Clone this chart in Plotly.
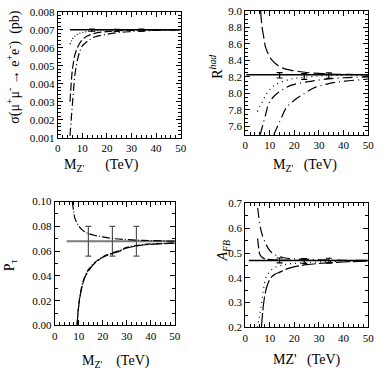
import plotly.graph_objects as go
from plotly.subplots import make_subplots

# ---- panel 1: sigma(mu+ mu- -> e+ e-) ----
sig_sm = 0.007
sig_err_x = [14, 24, 34]
sig_err_y = [0.00698, 0.00697, 0.00698]
sig_err = [0.00006, 0.00006, 0.00006]
sig_dot_x = [5, 6, 7, 8, 10, 12, 15, 20, 25, 30, 40, 50]
sig_dot_y = [0.0062, 0.0065, 0.00665, 0.00675, 0.00685, 0.0069, 0.00694, 0.00697, 0.00698, 0.00699, 0.007, 0.007]
sig_dash_x = [5, 5.3, 5.7, 6.2, 7, 8, 10, 12, 15, 20, 25, 30, 40, 50]
sig_dash_y = [0.0030, 0.0036, 0.0044, 0.0050, 0.0056, 0.0060, 0.00645, 0.00665, 0.0068, 0.0069, 0.00695, 0.00697, 0.00699, 0.007]
sig_dd_x = [5, 5.5, 6, 6.5, 7, 8, 9, 10, 12, 15, 20, 25, 30, 40, 50]
sig_dd_y = [0.0011, 0.0020, 0.0029, 0.0037, 0.0045, 0.0053, 0.0058, 0.0061, 0.00635, 0.0066, 0.00675, 0.00685, 0.0069, 0.00697, 0.007]

# ---- panel 2: R_had ----
rh_sm = 8.225
rh_err_x = [14, 24, 34]
rh_err_y = [8.22, 8.205, 8.215]
rh_err = [0.033, 0.035, 0.033]
rh_up_x = [6.3, 6.8, 7.5, 8.2, 9.5, 11, 12.8, 15, 18.8, 23.4, 28, 35, 42, 50]
rh_up_y = [9.0, 8.82, 8.69, 8.57, 8.47, 8.40, 8.35, 8.31, 8.28, 8.26, 8.245, 8.235, 8.23, 8.225]
rh_dot_x = [5, 6, 7, 8, 9, 10.5, 12, 15, 18, 22, 30, 40, 50]
rh_dot_y = [7.78, 7.85, 7.90, 7.96, 8.01, 8.06, 8.10, 8.14, 8.17, 8.19, 8.21, 8.22, 8.22]
rh_lo1_x = [6.1, 7, 8.2, 9.5, 11.5, 14.8, 18.8, 25, 32, 40, 50]
rh_lo1_y = [7.5, 7.6, 7.73, 7.87, 7.96, 8.04, 8.10, 8.14, 8.17, 8.19, 8.20]
rh_lo2_x = [11.6, 12.8, 14.8, 16.8, 20.1, 24.1, 27.4, 34, 40.6, 48.5, 50]
rh_lo2_y = [7.5, 7.58, 7.71, 7.83, 7.92, 8.0, 8.06, 8.12, 8.15, 8.17, 8.175]

# ---- panel 3: P_tau ----
pt_sm = 0.068
pt_err_x = [14, 24, 34]
pt_err_y = [0.068, 0.068, 0.068]
pt_err = [0.012, 0.012, 0.012]
pt_up_x = [7.3, 7.8, 8.3, 9.5, 11, 13, 16, 20, 25, 30, 40, 50]
pt_up_y = [0.10, 0.093, 0.087, 0.082, 0.078, 0.075, 0.073, 0.0715, 0.070, 0.0693, 0.0685, 0.068]
pt_lo_x = [9.3, 9.6, 10, 10.5, 11.2, 12.4, 14, 16.5, 20, 23, 27, 30, 35, 40, 45, 50]
pt_lo_y = [0, 0.008, 0.016, 0.023, 0.030, 0.038, 0.044, 0.050, 0.055, 0.0575, 0.060, 0.0625, 0.0645, 0.0655, 0.066, 0.0665]
pt_lo2_y = [0, 0.009, 0.017, 0.024, 0.031, 0.039, 0.045, 0.0505, 0.0555, 0.058, 0.0605, 0.063, 0.0648, 0.0658, 0.0662, 0.0667]

# ---- panel 4: A_FB ----
afb_sm = 0.47
afb_err_x = [14, 24, 34]
afb_err_y = [0.47, 0.468, 0.469]
afb_err = [0.01, 0.01, 0.01]
afb_dd_x = [5.1, 6.6, 8.6, 10, 12, 15.9, 20, 24, 30, 40, 50]
afb_dd_y = [0.682, 0.585, 0.533, 0.51, 0.494, 0.481, 0.477, 0.475, 0.473, 0.471, 0.47]
afb_dash_x = [5.1, 5.5, 6.0, 7, 8, 10, 14, 20, 30, 50]
afb_dash_y = [0.559, 0.52, 0.494, 0.482, 0.477, 0.474, 0.472, 0.471, 0.47, 0.47]
afb_dot_x = [5, 5.7, 6.4, 7.4, 8.4, 10, 11.7, 14, 17, 25, 35, 50]
afb_dot_y = [0.2, 0.24, 0.28, 0.35, 0.40, 0.425, 0.44, 0.449, 0.455, 0.462, 0.466, 0.469]
afb_lo_x = [6.6, 7.2, 8, 9, 10.4, 12, 14.4, 17, 19.7, 25, 33, 40, 50]
afb_lo_y = [0.2, 0.27, 0.33, 0.37, 0.40, 0.414, 0.424, 0.436, 0.444, 0.453, 0.46, 0.464, 0.468]

W, H = 382, 376
FONT = "Liberation Serif"
NB = "\u00a0"

fig = make_subplots(rows=2, cols=2)


def line(x, y, dash, row, col, color="black", width=1.2):
    fig.add_trace(go.Scatter(x=x, y=y, mode="lines", line=dict(color=color, width=width, dash=dash, shape="spline")),
                  row=row, col=col)


def errs(x, y, e, row, col, color="black"):
    fig.add_trace(go.Scatter(x=x, y=y, mode="markers", marker=dict(size=1, color=color),
                             error_y=dict(type="data", array=e, color=color, thickness=1.2, width=3)),
                  row=row, col=col)


# panel 1
line([5, 50], [sig_sm, sig_sm], "solid", 1, 1, width=1.5)
errs(sig_err_x, sig_err_y, sig_err, 1, 1)
line(sig_dot_x, sig_dot_y, "1px,2px", 1, 1)
line(sig_dash_x, sig_dash_y, "8px,3px", 1, 1)
line(sig_dd_x, sig_dd_y, "8px,3px,1px,3px", 1, 1)

# panel 2
line([0.5, 50], [rh_sm, rh_sm], "solid", 1, 2, width=1.5)
errs(rh_err_x, rh_err_y, rh_err, 1, 2)
line(rh_up_x, rh_up_y, "12px,4px", 1, 2)
line(rh_dot_x, rh_dot_y, "1px,4px", 1, 2)
line(rh_lo1_x, rh_lo1_y, "10px,4px,1px,4px", 1, 2)
line(rh_lo2_x, rh_lo2_y, "10px,4px,1px,4px", 1, 2)

# panel 3
gray = "#7a7a7a"
line([5, 50], [pt_sm, pt_sm], "solid", 2, 1, color=gray, width=2)
errs(pt_err_x, pt_err_y, pt_err, 2, 1, color="#555555")
line(pt_up_x, pt_up_y, "8px,2px,1px,2px", 2, 1)
line(pt_lo_x, pt_lo_y, "12px,2px", 2, 1)
line(pt_lo_x, pt_lo2_y, "6px,2px,1px,2px", 2, 1)

# panel 4
line([1.5, 50], [afb_sm, afb_sm], "solid", 2, 2, width=1.5)
errs(afb_err_x, afb_err_y, afb_err, 2, 2)
line(afb_dd_x, afb_dd_y, "10px,4px,1px,4px", 2, 2)
line(afb_dash_x, afb_dash_y, "10px,3px", 2, 2)
line(afb_dot_x, afb_dot_y, "1px,4px", 2, 2)
line(afb_lo_x, afb_lo_y, "14px,3px", 2, 2)

# plot areas in pixels: (left, right, top, bottom)
boxes = {(1, 1): (56, 182, 6, 136), (1, 2): (248, 374, 5, 133),
         (2, 1): (53, 176, 202, 330), (2, 2): (248, 374, 204, 332)}
yset = {(1, 1): dict(range=[0.001, 0.008], dtick=0.001, tickformat=".3f", minor=0.0002),
        (1, 2): dict(range=[7.5, 9.0], tick0=7.6, dtick=0.2, tickformat=".1f", minor=0.05),
        (2, 1): dict(range=[0, 0.10], dtick=0.02, tickformat=".2f", minor=0.01),
        (2, 2): dict(range=[0.2, 0.7], dtick=0.1, tickformat=".1f", minor=0.05)}

# axis titles as annotations: (text, x px, y px, angle)
titles = [
    ("M<sub>Z'</sub>" + NB * 6 + "(TeV)", 101, 165, 0),
    ("σ(μ<sup>+</sup>μ<sup>-</sup> → e<sup>+</sup>e<sup>-</sup>)" + NB * 2 + "(pb)", 11, 63, -90),
    ("M<sub>Z'</sub>" + NB * 3 + "(TeV)", 309, 165, 0),
    ("R<sup><i>had</i></sup>", 218, 63, -90),
    ("M<sub>Z'</sub>" + NB * 4 + "(TeV)", 116, 367, 0),
    ("P<sub>τ</sub>", 8, 268, -90),
    ("MZ'" + NB * 3 + "(TeV)", 311, 366, 0),
    ("<i>A<sub>FB</sub></i>", 226, 253, -90),
]

for (r, c), (l, rr, t, b) in boxes.items():
    common = dict(showline=True, linecolor="black", linewidth=1, mirror="allticks", ticks="inside",
                  ticklen=5, tickcolor="black", showgrid=False, zeroline=False,
                  tickfont=dict(family=FONT, size=11, color="black"))
    ys = yset[(r, c)]
    fig.update_xaxes(domain=[l / W, rr / W], range=[0, 50], dtick=10,
                     minor=dict(dtick=2, ticklen=3, ticks="inside", tickcolor="black"),
                     row=r, col=c, **common)
    fig.update_yaxes(domain=[1 - b / H, 1 - t / H], range=ys["range"], dtick=ys["dtick"],
                     tick0=ys.get("tick0", 0), tickformat=ys["tickformat"],
                     minor=dict(dtick=ys["minor"], ticklen=3, ticks="inside", tickcolor="black"),
                     row=r, col=c, **common)

for text, px, py, ang in titles:
    fig.add_annotation(text=text, x=px / W, y=1 - py / H, xref="paper", yref="paper",
                       xanchor="center", yanchor="middle", textangle=ang, showarrow=False,
                       font=dict(family=FONT, size=14, color="black"))

fig.update_layout(width=W, height=H, margin=dict(l=0, r=0, t=0, b=0), showlegend=False,
                  plot_bgcolor="white", paper_bgcolor="white", font=dict(family=FONT, color="black"))

# drop the default 8px page margin so the figure sits at the window's corner
fig.write_html("out.html", config={"displayModeBar": False},
               post_script="document.body.style.margin='0';")
